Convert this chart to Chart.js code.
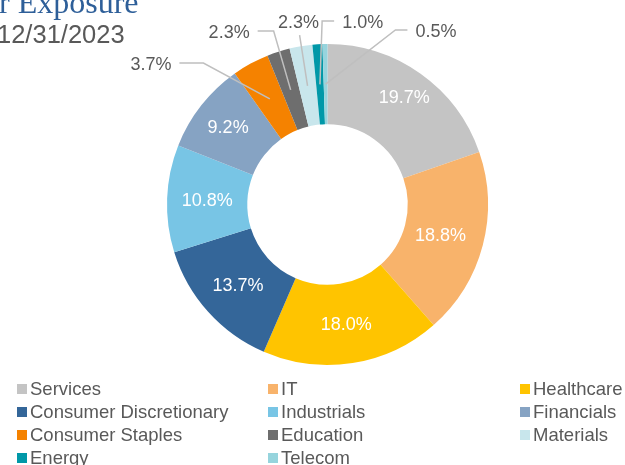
<!DOCTYPE html>
<html><head><meta charset="utf-8">
<script src="https://cdn.jsdelivr.net/npm/chart.js@4.4.1/dist/chart.umd.min.js"></script>
<style>
html,body{margin:0;padding:0;background:#fff;overflow:hidden;}
#wrap{position:relative;width:625px;height:465px;overflow:hidden;background:#fff;}
#c{position:absolute;left:0;top:0;}
.t1{position:absolute;left:-1px;top:-14px;font:32px/32px "Liberation Serif","Times New Roman",serif;color:#2E5F99;white-space:nowrap;}
.t2{position:absolute;left:-3px;top:22px;font:25.5px/25px "Liberation Sans",Arial,sans-serif;color:#595959;white-space:nowrap;}
#legend{position:absolute;left:17px;top:377px;display:grid;grid-template-columns:251px 252px 105px;grid-auto-rows:23px;font:18.5px/23px "Liberation Sans",Arial,sans-serif;color:#595959;}
.li{display:flex;align-items:center;white-space:nowrap;}
.sw{width:10px;height:10px;margin-right:3px;flex:none;}
</style></head>
<body>
<div id="wrap">
  <canvas id="c" width="625" height="465"></canvas>
  <div class="t1" id="t1"></div>
  <div class="t2" id="t2"></div>
  <div id="legend"></div>
</div>
<script>
// ---- data ----
const titleLine = 'r Exposure';
const dateLine = '12/31/2023';
const categories = ['Services','IT','Healthcare','Consumer Discretionary','Industrials','Financials','Consumer Staples','Education','Materials','Energy','Telecom'];
const weights = [19.7, 18.8, 18.0, 13.7, 10.8, 9.2, 3.7, 2.3, 2.3, 1.0, 0.5];

// ---- styles ----
const colors = ['#C4C4C4','#F8B36B','#FFC400','#346699','#78C5E5','#86A3C3','#F58200','#6E6E6E','#C8E6EC','#0098A8','#96D4DD'];
const insideRadiusFactor = [1.1, 0.97, 1, 1, 1, 1.05];
const outsidePlacement = {
  6:{a:308.5, rf:1.406, side:'right', elbow:24},
  7:{a:330.3, rf:1.237, side:'right', elbow:16},
  8:{a:351.0, rf:1.151, side:'below'},
  9:{a:10.9, rf:1.158, side:'left', elbow:12},
  10:{a:32.0, rf:1.275, side:'left', elbow:12}
};

document.getElementById('t1').textContent = titleLine;
document.getElementById('t2').textContent = dateLine;
const lg = document.getElementById('legend');
categories.forEach((c,i)=>{
  const d = document.createElement('div'); d.className='li';
  const s = document.createElement('span'); s.className='sw'; s.style.background=colors[i];
  const t = document.createElement('span'); t.textContent=c;
  d.appendChild(s); d.appendChild(t); lg.appendChild(d);
});

const labelPlugin = {
  id:'sliceLabels',
  afterDatasetsDraw(chart){
    const ctx = chart.ctx;
    const meta = chart.getDatasetMeta(0);
    ctx.save();
    ctx.font = '18px "Liberation Sans", Arial, sans-serif';
    ctx.textAlign = 'center';
    ctx.textBaseline = 'alphabetic';
    meta.data.forEach((arc,i)=>{
      const txt = weights[i].toFixed(1)+'%';
      const p = arc.getCenterPoint();
      const cx = arc.x, cy = arc.y, R = arc.outerRadius;
      const pl = outsidePlacement[i];
      if(!pl){
        const f = insideRadiusFactor[i] || 1;
        const lx = cx + (p.x-cx)*f, ly = cy + (p.y-cy)*f;
        ctx.fillStyle = '#FFFFFF';
        ctx.fillText(txt, lx, ly+6.4);
        return;
      }
      const ang = pl.a*Math.PI/180;
      const tx = cx + R*pl.rf*Math.sin(ang), ty = cy - R*pl.rf*Math.cos(ang);
      const w = ctx.measureText(txt).width;
      ctx.strokeStyle = '#BFBFBF'; ctx.lineWidth = 1.5;
      ctx.beginPath();
      if(pl.side==='right'){ const sx=tx+w/2+8, sy=ty-1; ctx.moveTo(sx,sy); ctx.lineTo(sx+pl.elbow,sy); }
      else if(pl.side==='left'){ const sx=tx-w/2-8, sy=ty-1; ctx.moveTo(sx,sy); ctx.lineTo(sx-pl.elbow,sy); }
      else { ctx.moveTo(tx+1, ty+13); }
      ctx.lineTo(p.x, p.y);
      ctx.stroke();
      ctx.fillStyle = '#595959';
      ctx.fillText(txt, tx, ty+6.4);
    });
    ctx.restore();
  }
};

new Chart(document.getElementById('c'), {
  type:'doughnut',
  data:{ labels:categories, datasets:[{ data:weights, backgroundColor:colors, borderWidth:0, hoverOffset:0, offset:0 }] },
  options:{
    responsive:false, devicePixelRatio:1, animation:false,
    cutout:'50%',
    layout:{ padding:{ left:167, right:137, top:44, bottom:100 } },
    plugins:{ legend:{display:false}, tooltip:{enabled:false}, title:{display:false} },
    events:[]
  },
  plugins:[labelPlugin]
});
</script>
</body></html>
